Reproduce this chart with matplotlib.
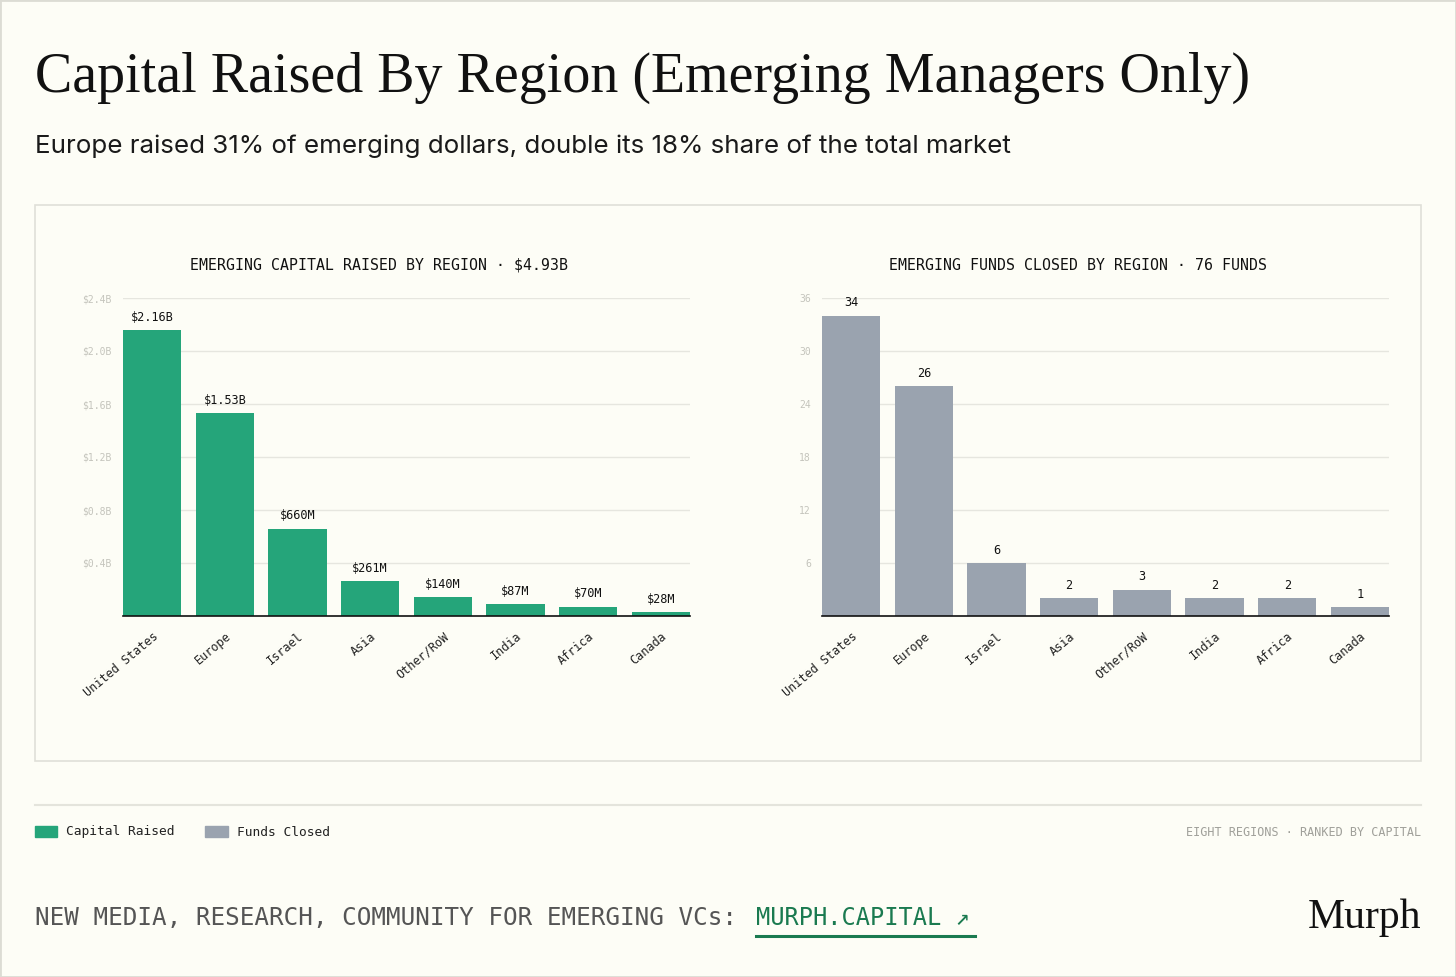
import matplotlib
matplotlib.use("Agg")
import matplotlib.pyplot as plt
from matplotlib.patches import Rectangle
from matplotlib.lines import Line2D

regions = ["United States", "Europe", "Israel", "Asia", "Other/RoW", "India", "Africa", "Canada"]
capital_b = [2.16, 1.53, 0.660, 0.261, 0.140, 0.087, 0.070, 0.028]
capital_labels = ["$2.16B", "$1.53B", "$660M", "$261M", "$140M", "$87M", "$70M", "$28M"]
funds = [34, 26, 6, 2, 3, 2, 2, 1]
capital_ticks = [0.4, 0.8, 1.2, 1.6, 2.0, 2.4]
capital_tick_labels = ["$0.4B", "$0.8B", "$1.2B", "$1.6B", "$2.0B", "$2.4B"]
fund_ticks = [6, 12, 18, 24, 30, 36]

BG = "#fdfdf6"
GREEN = "#25a57a"
GREY = "#9aa3af"
MONO = "DejaVu Sans Mono"
W, H = 1456, 977

fig = plt.figure(figsize=(W / 100, H / 100), dpi=100, facecolor=BG)


def fx(px):
    return px / W


def fy(py):
    return 1 - py / H


# outer frame and chart panel (behind the axes)
fig.patches.append(Rectangle((0, 0), 1, 1, transform=fig.transFigure, fill=False,
                             edgecolor="#dcdcd4", linewidth=2, zorder=-5))
fig.patches.append(Rectangle((fx(35), fy(761)), fx(1421) - fx(35), fy(205) - fy(761),
                             transform=fig.transFigure, facecolor=BG,
                             edgecolor="#e0e0d8", linewidth=1.2, zorder=-5))

fig.text(fx(35), fy(78), "Capital Raised By Region (Emerging Managers Only)",
         family="Liberation Serif", fontsize=40.3, color="#111111", va="center")
fig.text(fx(35), fy(146), "Europe raised 31% of emerging dollars, double its 18% share of the total market",
         family="Inter", fontsize=18.7, color="#1a1a1a", va="center")


def draw_panel(rect, values, labels, color, ticks, tick_labels, title, title_x, top):
    ax = fig.add_axes(rect)
    ax.set_facecolor("none")
    x = range(len(values))
    bars = ax.bar(x, values, width=0.8, color=color, zorder=2)
    ax.set_xlim(-0.4, len(values) - 0.6)
    ax.set_ylim(0, top)
    ax.set_yticks(ticks)
    ax.set_yticklabels(tick_labels, family=MONO, fontsize=7, color="#c4c4bc")
    ax.set_xticks(list(x))
    ax.set_xticklabels(regions, family=MONO, fontsize=8.6, color="#222222",
                       rotation=40, ha="right", rotation_mode="anchor")
    ax.tick_params(axis="both", length=0)
    ax.tick_params(axis="y", pad=8)
    ax.tick_params(axis="x", pad=10)
    ax.grid(axis="y", color="#e6e6df", linewidth=1, zorder=0)
    for s in ["top", "right", "left"]:
        ax.spines[s].set_visible(False)
    ax.spines["bottom"].set_color("#111111")
    ax.spines["bottom"].set_linewidth(1.2)
    ax.spines["bottom"].set_zorder(3)
    for b, lab in zip(bars, labels):
        ax.annotate(lab, (b.get_x() + b.get_width() / 2, b.get_height()),
                    xytext=(0, 4.5), textcoords="offset points", ha="center", va="bottom",
                    family=MONO, fontsize=8.6, color="#111111")
    # panel title is centred on its half of the card, not on the axes
    fig.text(fx(title_x), fy(265), title, family=MONO, fontsize=10.7, color="#111111",
             ha="center", va="center")
    return ax


ax1 = draw_panel([fx(123), fy(616), fx(690) - fx(123), fy(298) - fy(616)],
                 capital_b, capital_labels, GREEN, capital_ticks, capital_tick_labels,
                 "EMERGING CAPITAL RAISED BY REGION · $4.93B", 379, 2.4)
ax2 = draw_panel([fx(822), fy(616), fx(1389) - fx(822), fy(298) - fy(616)],
                 funds, [str(v) for v in funds], GREY, fund_ticks, [str(t) for t in fund_ticks],
                 "EMERGING FUNDS CLOSED BY REGION · 76 FUNDS", 1078, 36)

# separator and legend
fig.add_artist(Line2D([fx(35), fx(1421)], [fy(805), fy(805)], transform=fig.transFigure,
                      color="#e4e4dc", linewidth=1.5))
fig.patches.append(Rectangle((fx(35), fy(837)), fx(22), fy(826) - fy(837),
                             transform=fig.transFigure, color=GREEN))
fig.text(fx(66), fy(832), "Capital Raised", family=MONO, fontsize=9.3, color="#222222", va="center")
fig.patches.append(Rectangle((fx(205), fy(837)), fx(23), fy(826) - fy(837),
                             transform=fig.transFigure, color=GREY))
fig.text(fx(237), fy(832), "Funds Closed", family=MONO, fontsize=9.3, color="#222222", va="center")
fig.text(fx(1421), fy(832), "EIGHT REGIONS · RANKED BY CAPITAL", family=MONO, fontsize=8.5,
         color="#a0a09a", va="center", ha="right")

# footer
fig.text(fx(35), fy(918), "NEW MEDIA, RESEARCH, COMMUNITY FOR EMERGING VCs:", family=MONO,
         fontsize=17.5, color="#555555", va="center")
fig.text(fx(756), fy(918), "MURPH.CAPITAL ↗", family=MONO, fontsize=17,
         color="#1a7a50", va="center")
fig.add_artist(Line2D([fx(756), fx(975)], [fy(936), fy(936)], transform=fig.transFigure,
                      color="#1a7a50", linewidth=2.2))
fig.text(fx(1421), fy(918), "Murph", family="Liberation Serif", fontsize=30,
         color="#111111", va="center", ha="right")

fig.savefig("out.png", dpi=100, facecolor=BG)
